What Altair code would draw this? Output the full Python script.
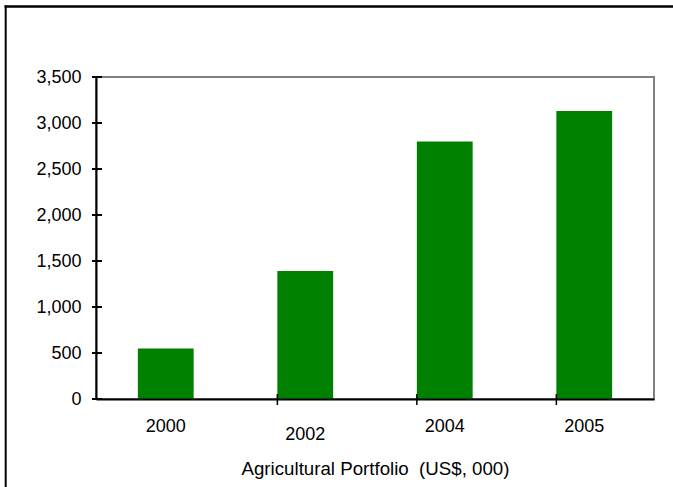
import altair as alt
import pandas as pd

# Agricultural portfolio by year (US$ thousands)
years = ["2000", "2002", "2004", "2005"]
values = [550, 1390, 2800, 3130]
y_ticks = [0, 500, 1000, 1500, 2000, 2500, 3000, 3500]

FONT = "Liberation Sans"
FS = 18

df = pd.DataFrame({"year": years, "value": values})
x_scale = alt.Scale(domain=years, paddingInner=0.6, paddingOuter=0.3)
y_scale = alt.Scale(domain=[0, 3500], nice=False)

x_axis = alt.Axis(
    title="Agricultural Portfolio\u00a0\u00a0(US$, 000)",
    labelAngle=0,
    ticks=False,
    grid=False,
    domainColor="black",
    domainWidth=2,
    labelFont=FONT,
    labelFontSize=FS,
    labelColor="black",
    labelPadding={"condition": {"test": "datum.value === '2002'", "value": 26}, "value": 18},
    titleFont=FONT,
    titleFontSize=18.7,
    titleFontWeight="normal",
    titleColor="black",
    titleY=75,
    titleBaseline="alphabetic",
    zindex=1,
)

y_axis = alt.Axis(
    title=None,
    values=y_ticks,
    format=",.0f",
    ticks=False,
    grid=False,
    domainColor="black",
    domainWidth=2,
    labelFont=FONT,
    labelFontSize=FS,
    labelColor="black",
    labelPadding=15,
    zindex=1,
)

bars = alt.Chart(df).mark_bar(color="#008000").encode(
    x=alt.X("year:N", scale=x_scale, axis=x_axis, sort=years),
    y=alt.Y("value:Q", scale=y_scale, axis=y_axis),
)

# tick marks that cross the axis lines
ytick_rules = alt.Chart(pd.DataFrame({"value": y_ticks})).mark_rule(
    color="black", strokeWidth=2
).encode(
    y=alt.Y("value:Q", scale=y_scale, axis=y_axis),
    x=alt.value(-4),
    x2=alt.value(6),
)

xtick_rules = alt.Chart(pd.DataFrame({"year": years[1:]})).mark_rule(
    color="black", strokeWidth=1.5
).encode(
    x=alt.X("year:N", scale=x_scale, axis=x_axis, sort=years, bandPosition=0),
    y=alt.value(317),
    y2=alt.value(328),
)

# outer frame lines
frame_src = pd.DataFrame({"k": [0]})
frame_left = alt.Chart(frame_src).mark_rule(color="black", strokeWidth=2).encode(
    x=alt.value(-90.3), y=alt.value(-71.5), y2=alt.value(420)
)
frame_top = alt.Chart(frame_src).mark_rule(color="black", strokeWidth=2.5).encode(
    x=alt.value(-91.5), x2=alt.value(630), y=alt.value(-70.5)
)

chart = (
    alt.layer(bars, ytick_rules, xtick_rules, frame_left, frame_top)
    .properties(
        width=558,
        height=322,
        autosize=alt.AutoSizeParams(type="none"),
        padding={"left": 96, "top": 77, "right": 19, "bottom": 88},
        background="white",
    )
    .configure_view(stroke="#808080", strokeWidth=2)
)

chart.save("out.html", embed_options={"renderer": "svg", "actions": False})
